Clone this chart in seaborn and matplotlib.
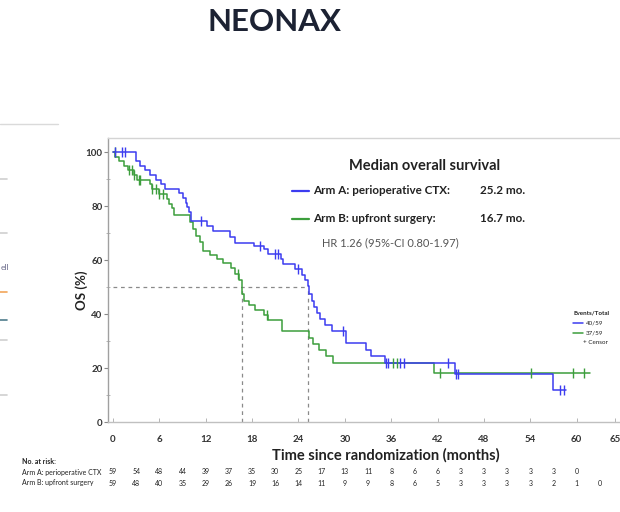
import numpy as np
import pandas as pd
import matplotlib
matplotlib.use("Agg")
import matplotlib.pyplot as plt
from matplotlib.lines import Line2D
import matplotlib.transforms as mtransforms
import seaborn as sns

# ---------------- data ----------------
arm_a_time = [0, 3.0, 3.5, 4.2, 4.8, 5.5, 6.2, 6.7, 8.6, 9.0, 9.4, 9.6, 9.8, 10.1,
              12.2, 13.0, 15.1, 15.8, 18.2, 19.5, 20.0, 21.8, 22.0, 23.6, 24.4, 24.8,
              25.2, 25.3, 25.7, 26.0, 26.4, 26.8, 27.4, 28.4, 30.2, 32.7, 33.4, 35.2,
              44.2, 56.9, 58.6]
arm_a_surv = [100, 96.6, 94.9, 93.2, 91.5, 89.8, 88.1, 86.4, 84.7, 83.0, 81.3, 79.6, 77.9, 74.5,
              72.6, 70.9, 68.4, 66.3, 65.2, 63.9, 62.2, 60.3, 58.5, 56.6, 54.6, 52.6,
              50.4, 47.4, 45.0, 42.6, 40.4, 38.2, 36.0, 33.6, 29.3, 26.8, 24.3, 22.0,
              17.6, 11.8, 11.8]
arm_a_censor = [0.2, 1.1, 1.5, 11.4, 19.0, 21.0, 21.4, 23.9, 29.8, 35.3, 35.6, 37.2, 37.6,
                43.4, 44.4, 44.6, 57.9, 58.3]

arm_b_time = [0, 0.3, 0.8, 1.4, 2.0, 2.7, 3.1, 4.8, 5.0, 5.9, 7.0, 7.3, 7.6, 7.9,
              10.0, 10.4, 10.8, 11.2, 11.7, 12.6, 13.4, 14.2, 15.3, 15.8, 16.3, 16.7,
              17.0, 17.6, 18.4, 19.5, 20.1, 21.9, 25.4, 25.9, 26.6, 27.6, 28.5, 41.5, 61.7]
arm_b_surv = [100, 98.3, 96.6, 94.9, 93.2, 91.5, 89.8, 88.0, 86.3, 84.5, 82.7, 80.9, 79.1, 76.5,
              74.2, 71.5, 68.8, 66.6, 63.5, 62.0, 60.5, 59.0, 57.0, 55.0, 52.5, 47.5,
              45.0, 43.3, 41.4, 39.6, 37.8, 33.8, 31.3, 29.0, 26.8, 24.3, 21.8, 18.0, 18.0]
arm_b_censor = [0.2, 2.1, 2.4, 2.7, 3.3, 3.5, 5.1, 5.6, 6.0, 6.5, 16.2, 19.9,
                36.2, 36.7, 42.3, 54.1, 59.5, 61.0]

median_a = 25.2
median_b = 16.7

risk_months = [0, 3, 6, 9, 12, 15, 18, 21, 24, 27, 30, 33, 36, 39, 42, 45, 48, 51, 54, 57, 60, 63]
risk_a = [59, 54, 48, 44, 39, 37, 35, 30, 25, 17, 13, 11, 8, 6, 6, 3, 3, 3, 3, 3, 0]
risk_b = [59, 48, 40, 35, 29, 26, 19, 16, 14, 11, 9, 9, 8, 6, 5, 3, 3, 3, 3, 2, 1, 0]

x_ticks = [0, 6, 12, 18, 24, 30, 36, 42, 48, 54, 60, 65]
y_ticks = [0, 20, 40, 60, 80, 100]

label_a = "Arm A: perioperative CTX:"
label_b = "Arm B: upfront surgery:"
events_a = "40/59"
events_b = "37/59"

BLUE = "#3c3cf0"
GREEN = "#3c9e3c"

# ---------------- style ----------------
sns.set_theme(style="white")
plt.rcParams["font.family"] = ["Lato", "DejaVu Sans"]

W, H = 620, 512
fig = plt.figure(figsize=(W / 100, H / 100), dpi=100)


def fx(px):
    return px / W


def fy(py):
    return 1 - py / H


ax = fig.add_axes([fx(108), fy(422), fx(630) - fx(108), fy(138) - fy(422)])
ax.set_xlim(-0.65, 66.9)
ax.set_ylim(0, 105.2)


def surv_at(times, survs, t):
    idx = np.searchsorted(np.asarray(times), t, side="right") - 1
    return np.asarray(survs)[idx]


# median reference lines
ax.plot([0, median_a], [50, 50], color="#8a8a8a", lw=0.9, dashes=(3, 3), zorder=1)
ax.plot([median_b, median_b], [0, 50], color="#8a8a8a", lw=0.9, dashes=(3, 3), zorder=1)
ax.plot([median_a, median_a], [0, 50], color="#8a8a8a", lw=0.9, dashes=(3, 3), zorder=1)

df_a = pd.DataFrame({"t": arm_a_time, "s": arm_a_surv})
df_b = pd.DataFrame({"t": arm_b_time, "s": arm_b_surv})
sns.lineplot(data=df_b, x="t", y="s", ax=ax, color=GREEN, lw=1.1,
             drawstyle="steps-post", sort=False, estimator=None, zorder=3)
sns.lineplot(data=df_a, x="t", y="s", ax=ax, color=BLUE, lw=1.1,
             drawstyle="steps-post", sort=False, estimator=None, zorder=4)

cb = pd.DataFrame({"t": arm_b_censor,
                   "s": [surv_at(arm_b_time, arm_b_surv, t) for t in arm_b_censor]})
ca = pd.DataFrame({"t": arm_a_censor,
                   "s": [surv_at(arm_a_time, arm_a_surv, t) for t in arm_a_censor]})
sns.scatterplot(data=cb, x="t", y="s", ax=ax, marker="|", s=60, linewidth=1.0,
                color=GREEN, zorder=5)
sns.scatterplot(data=ca, x="t", y="s", ax=ax, marker="|", s=60, linewidth=1.0,
                color=BLUE, zorder=6)

# axes styling
ax.set_xlabel("")
ax.set_ylabel("")
ax.set_xticks(x_ticks)
ax.set_xticklabels([str(v) for v in x_ticks])
ax.set_yticks(y_ticks)
ax.set_yticklabels([str(v) for v in y_ticks])
ax.set_yticks([10, 30, 50, 70, 90], minor=True)
ax.tick_params(axis="y", which="major", direction="out", length=3, width=0.8,
               color="#888", labelsize=7, labelcolor="#333", pad=1, left=True)
ax.tick_params(axis="y", which="minor", direction="inout", length=3, width=0.6,
               color="#aaa", left=True)
ax.tick_params(axis="x", which="major", direction="in", length=3, width=0.6,
               color="#aaa", labelsize=7, labelcolor="#333", pad=9, bottom=True)
for lab in ax.get_xticklabels() + ax.get_yticklabels():
    lab.set_fontweight("bold")
ax.spines["left"].set_color("#a0a0a0")
ax.spines["bottom"].set_color("#c0c0c0")
ax.spines["top"].set_color("#d4d4d4")
ax.spines["right"].set_visible(False)
for s in ["left", "bottom", "top"]:
    ax.spines[s].set_linewidth(1.0)

# axis titles
fig.text(fx(82), fy(290), "OS (%)", rotation=90, ha="center", va="center",
         fontsize=9.5, fontweight="bold", color="#222")
fig.text(fx(386), fy(455), "Time since randomization (months)", ha="center", va="center",
         fontsize=10.5, fontweight="bold", color="#222")

# title
fig.text(fx(275), fy(22), "NEONAX", ha="center", va="center", fontsize=22.5,
         fontweight="bold", color="#1c2233")

# median box
fig.text(fx(425), fy(166), "Median overall survival", ha="center", va="center",
         fontsize=10.5, fontweight="bold", color="#222")
fig.add_artist(Line2D([fx(292), fx(309)], [fy(191), fy(191)], color=BLUE, lw=1.6))
fig.add_artist(Line2D([fx(292), fx(309)], [fy(219), fy(219)], color=GREEN, lw=1.6))
fig.text(fx(313), fy(191), label_a, ha="left", va="center", fontsize=8.4,
         fontweight="bold", color="#222")
fig.text(fx(313), fy(219), label_b, ha="left", va="center", fontsize=8.4,
         fontweight="bold", color="#222")
fig.text(fx(480), fy(191), f"{median_a} mo.", ha="left", va="center", fontsize=8.4,
         fontweight="bold", color="#222")
fig.text(fx(480), fy(219), f"{median_b} mo.", ha="left", va="center", fontsize=8.4,
         fontweight="bold", color="#222")
fig.text(fx(322), fy(243), "HR 1.26 (95%-CI 0.80-1.97)", ha="left", va="center",
         fontsize=8, color="#555")

# small events legend
fig.text(fx(573), fy(313), "Events/Total", ha="left", va="center", fontsize=4.5,
         fontweight="bold", color="#222")
fig.add_artist(Line2D([fx(573), fx(583)], [fy(323), fy(323)], color=BLUE, lw=1.1))
fig.add_artist(Line2D([fx(573), fx(583)], [fy(333), fy(333)], color=GREEN, lw=1.1))
fig.text(fx(586), fy(323), events_a, ha="left", va="center", fontsize=4.5, color="#222")
fig.text(fx(586), fy(333), events_b, ha="left", va="center", fontsize=4.5, color="#222")
fig.text(fx(583), fy(343), "+ Censor", ha="left", va="center", fontsize=4.5, color="#222")

# numbers at risk
trans = mtransforms.blended_transform_factory(ax.transData, fig.transFigure)
fig.text(fx(22), fy(462), "No. at risk:", ha="left", va="center", fontsize=5,
         fontweight="bold", color="#222")
fig.text(fx(22), fy(472), "Arm A: perioperative CTX", ha="left", va="center",
         fontsize=5, color="#222")
fig.text(fx(22), fy(483), "Arm B: upfront surgery", ha="left", va="center",
         fontsize=5, color="#222")
for m, v in zip(risk_months, risk_a):
    ax.text(m, fy(472), str(v), transform=trans, ha="center", va="center",
            fontsize=5, color="#222", clip_on=False)
for m, v in zip(risk_months, risk_b):
    ax.text(m, fy(483), str(v), transform=trans, ha="center", va="center",
            fontsize=5, color="#222", clip_on=False)

# fragments of neighbouring slide content on the left edge
fig.add_artist(Line2D([0, fx(58)], [fy(124), fy(124)], color="#dadada", lw=1.0))
for yy, cc in [(179, "#cfcfcf"), (233, "#cfcfcf"), (340, "#cfcfcf"), (395, "#cfcfcf"),
               (292, "#f2a65a"), (320, "#4f7d8c")]:
    fig.add_artist(Line2D([0, fx(7)], [fy(yy), fy(yy)], color=cc, lw=1.2))
fig.text(fx(1), fy(268), "ell", ha="left", va="center", fontsize=6, color="#6a6a8a")

fig.savefig("out.png", dpi=100)
